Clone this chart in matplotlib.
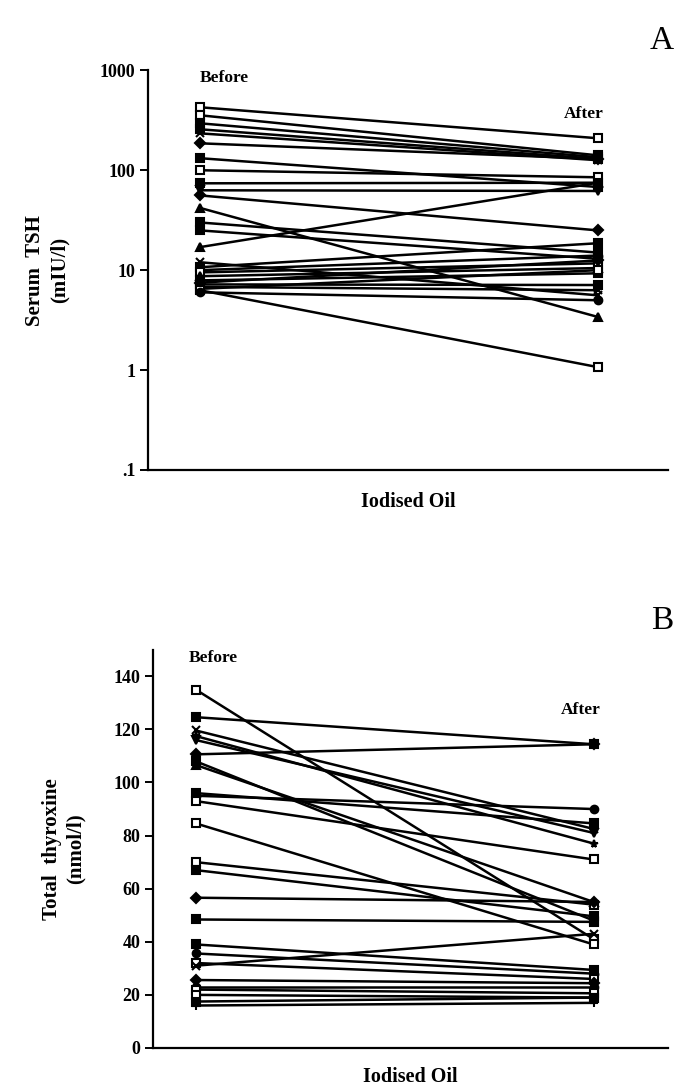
import matplotlib
matplotlib.use("Agg")
import matplotlib.pyplot as plt

plt.rcParams['font.family'] = ['Liberation Serif', 'DejaVu Serif']

# ---- Panel A: serum TSH (mIU/l), before and after iodised oil ----
tsh_before = [427, 355, 295, 257, 234, 186, 132, 100, 74, 63, 56, 42, 30, 25, 17,
              12, 10.7, 10, 9.5, 8.7, 7.9, 7.5, 7.2, 6.8, 6.5, 6.3, 6.0]
tsh_after = [209, 141, 135, 130, 126, 130, 68, 85, 75, 62, 25, 3.4, 15, 13, 75,
             5.6, 18.6, 14, 11.7, 10.5, 9.3, 12.5, 7.1, 6.3, 10, 1.07, 5.0]
tsh_markers = ['s', 's', 's', 's', 'x', 'D', 's', 's', 's', 'v', 'D', '^', 's', 's', '^',
               'x', 's', 'o', 's', '^', 's', 'D', 's', 'x', 's', 's', 'o']
tsh_open = [1, 1, 0, 0, 0, 0, 0, 1, 0, 0, 0, 0, 0, 0, 0,
            0, 0, 0, 1, 0, 0, 0, 0, 0, 1, 1, 0]
tsh_ticks = [0.1, 1, 10, 100, 1000]
tsh_ticklabels = ['.1', '1', '10', '100', '1000']

# ---- Panel B: total thyroxine (nmol/l) ----
t4_before = [135, 124.6, 119.6, 117.5, 116, 110.6, 108, 106.6, 96, 95, 93, 84.6, 70,
             67, 56.6, 48.4, 39, 35.6, 32, 31, 25.6, 23, 22, 20, 17.5, 16]
t4_after = [41, 114.4, 82.5, 77, 81, 114.4, 48, 55, 84.6, 90, 71, 39, 54,
            49.6, 55, 47.5, 29.4, 28, 26, 43, 24.4, 23, 20.6, 19, 19, 17]
t4_markers = ['s', 's', 'x', '*', 'v', 'D', 's', '^', 's', 'o', 's', 's', 's',
              's', 'D', 's', 's', 'o', 's', 'x', 'D', 'o', 's', 's', 's', '+']
t4_open = [1, 0, 0, 0, 0, 0, 0, 0, 0, 0, 1, 1, 1,
           0, 0, 0, 0, 0, 1, 0, 0, 0, 1, 1, 0, 0]
t4_ticks = [0, 20, 40, 60, 80, 100, 120, 140]

fig = plt.figure(figsize=(6.91, 10.92), dpi=100)

lab = dict(fontsize=12.5, fontweight='bold')


def draw_pairs(ax, before, after, markers, opens, xb, xa):
    for b, a, m, o in zip(before, after, markers, opens):
        face = 'white' if o else 'black'
        ax.plot([xb, xa], [b, a], color='black', lw=1.8, marker=m, ms=5.5,
                mfc=face, mec='black', mew=1.5)


def style_axes(ax):
    for s in ['top', 'right']:
        ax.spines[s].set_visible(False)
    for s in ['left', 'bottom']:
        ax.spines[s].set_linewidth(1.6)
    ax.set_xticks([])
    ax.tick_params(axis='y', direction='out', length=6, width=1.4, pad=3,
                   labelsize=13)
    for t in ax.get_yticklabels():
        t.set_fontweight('bold')


# panel A
axA = fig.add_axes([0.214, 0.5696, 0.753, 0.366])
axA.set_yscale('log')
draw_pairs(axA, tsh_before, tsh_after, tsh_markers, tsh_open, 0.1, 0.865)
axA.set_xlim(0, 1)
axA.set_ylim(0.1, 1000)
axA.set_yticks(tsh_ticks)
axA.set_yticklabels(tsh_ticklabels)
axA.minorticks_off()
style_axes(axA)
axA.text(0.1, 1.0, 'Before', transform=axA.transAxes, ha='left', va='top', **lab)
axA.text(0.875, 0.91, 'After', transform=axA.transAxes, ha='right', va='top', **lab)
axA.set_xlabel('Iodised Oil', fontsize=14.5, fontweight='bold', labelpad=16)
axA.set_ylabel('Serum  TSH\n(mIU/l)', fontsize=15, fontweight='bold',
               linespacing=1.25, labelpad=22)
fig.text(0.975, 0.963, 'A', fontsize=24, ha='right', va='center')

# panel B
axB = fig.add_axes([0.2214, 0.0403, 0.745, 0.3647])
draw_pairs(axB, t4_before, t4_after, t4_markers, t4_open, 0.083, 0.856)
axB.set_xlim(0, 1)
axB.set_ylim(0, 150)
axB.set_yticks(t4_ticks)
style_axes(axB)
axB.text(0.07, 1.0, 'Before', transform=axB.transAxes, ha='left', va='top', **lab)
axB.text(0.87, 0.87, 'After', transform=axB.transAxes, ha='right', va='top', **lab)
axB.set_xlabel('Iodised Oil', fontsize=14.5, fontweight='bold', labelpad=14)
axB.set_ylabel('Total  thyroxine\n(nmol/l)', fontsize=15, fontweight='bold',
               linespacing=1.25, labelpad=20)
fig.text(0.975, 0.432, 'B', fontsize=24, ha='right', va='center')

fig.savefig('out.png', dpi=100)
